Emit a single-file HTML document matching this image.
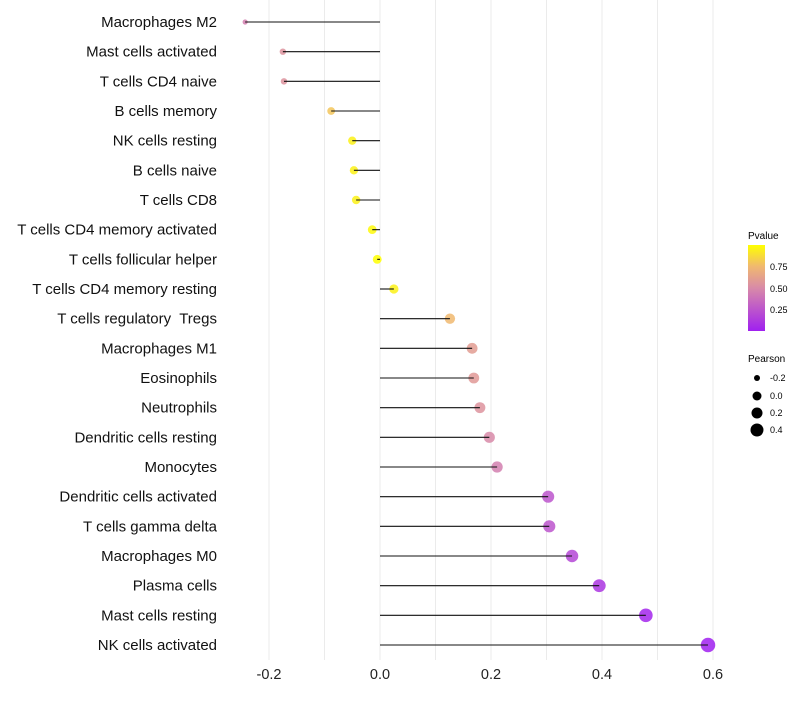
<!DOCTYPE html>
<html><head><meta charset="utf-8"><style>
body{margin:0;background:#fff;font-family:"Liberation Sans",sans-serif;}
</style></head><body>
<svg id="chart" width="800" height="700" xmlns="http://www.w3.org/2000/svg">
<defs><linearGradient id="pg" x1="0" y1="1" x2="0" y2="0">
<stop offset="0" stop-color="#a020f0"/><stop offset="0.5" stop-color="#d88aa8"/><stop offset="0.75" stop-color="#f0b870"/><stop offset="1" stop-color="#ffff00"/></linearGradient></defs>
<g id="grid"></g>
<g id="marks"></g>
<g id="labels"></g>
<g id="xt"></g>
<g font-size="9">
<text x="748" y="239" font-size="10">Pvalue</text>
<rect x="748" y="245" width="17" height="86" fill="url(#pg)"/>
<text x="770" y="270">0.75</text><text x="770" y="292">0.50</text><text x="770" y="313">0.25</text>
</g>
<g font-size="9">
<text x="748" y="362" font-size="10">Pearson</text>
<circle cx="757" cy="378" r="3"/><text x="770" y="381">-0.2</text>
<circle cx="757" cy="396" r="4.5"/><text x="770" y="399">0.0</text>
<circle cx="757" cy="413" r="5.5"/><text x="770" y="416">0.2</text>
<circle cx="757" cy="430" r="6.5"/><text x="770" y="433">0.4</text>
</g>
</svg>
<script>
const cells=["Macrophages M2","Mast cells activated","T cells CD4 naive","B cells memory","NK cells resting","B cells naive","T cells CD8","T cells CD4 memory activated","T cells follicular helper","T cells CD4 memory resting","T cells regulatory  Tregs","Macrophages M1","Eosinophils","Neutrophils","Dendritic cells resting","Monocytes","Dendritic cells activated","T cells gamma delta","Macrophages M0","Plasma cells","Mast cells resting","NK cells activated"];
const pearson=[-0.243,-0.175,-0.173,-0.088,-0.05,-0.047,-0.043,-0.014,-0.005,0.025,0.126,0.166,0.169,0.18,0.197,0.211,0.303,0.305,0.346,0.395,0.479,0.591];
const pvalue=[0.45,0.55,0.55,0.8,0.95,0.95,0.95,0.98,1.0,0.95,0.75,0.6,0.58,0.55,0.5,0.45,0.25,0.25,0.18,0.1,0.03,0.0];
const xticks=[-0.2,0,0.2,0.4,0.6];
const NS="http://www.w3.org/2000/svg";
const xs=v=>380+v*555;
const ys=i=>22+i*(623/21);
const rs=v=>Math.sqrt(Math.max(2,20+55*v));
function col(p){const st=[[0,[160,32,240]],[0.5,[216,138,168]],[0.75,[240,184,112]],[1,[255,255,0]]];
for(let k=1;k<st.length;k++){if(p<=st[k][0]){const a=st[k-1],b=st[k],t=(p-a[0])/(b[0]-a[0]);return `rgb(${a[1].map((c,j)=>Math.round(c+(b[1][j]-c)*t)).join(',')})`;}}return 'rgb(255,255,0)';}
function mk(tag,at,par){const e=document.createElementNS(NS,tag);for(const k in at)e.setAttribute(k,at[k]);document.getElementById(par).appendChild(e);return e;}
for(let v=-0.2;v<=0.61;v+=0.1){const g=mk('line',{x1:xs(v),x2:xs(v),y1:0,y2:660,stroke:'#ebebeb','stroke-width':1},'grid');

}
xticks.forEach(t=>{const e=mk('text',{x:xs(t),y:679,'text-anchor':'middle','font-size':14.5,fill:'#222'},'xt');e.textContent=t.toFixed(1);

});
cells.forEach((c,i)=>{const y=ys(i);
const lb=mk('text',{x:217,y:y+5,'text-anchor':'end','font-size':15,fill:'#111','xml:space':'preserve'},'labels');lb.style.whiteSpace='pre';lb.textContent=c;


const d=mk('circle',{cx:xs(pearson[i]),cy:y,r:rs(pearson[i]),fill:col(pvalue[i]),'fill-opacity':0.85},'marks');


const l=mk('line',{x1:xs(0),x2:xs(pearson[i]),y1:y,y2:y,stroke:'#111','stroke-width':1.1},'marks');

});
</script>
</body></html>
